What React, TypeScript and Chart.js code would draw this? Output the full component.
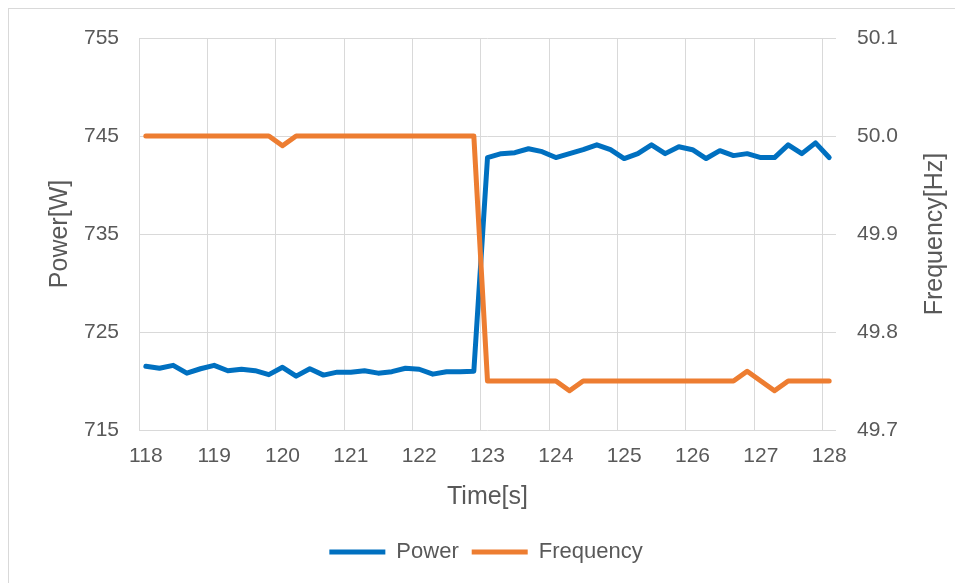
import React, { useEffect, useRef } from "react";
import { Chart, registerables } from "chart.js";

Chart.register(...registerables);

const time = [
  118.0, 118.2, 118.4, 118.6, 118.8, 119.0, 119.2, 119.4, 119.6, 119.8,
  120.0, 120.2, 120.4, 120.6, 120.8, 121.0, 121.2, 121.4, 121.6, 121.8,
  122.0, 122.2, 122.4, 122.6, 122.8, 123.0, 123.2, 123.4, 123.6, 123.8,
  124.0, 124.2, 124.4, 124.6, 124.8, 125.0, 125.2, 125.4, 125.6, 125.8,
  126.0, 126.2, 126.4, 126.6, 126.8, 127.0, 127.2, 127.4, 127.6, 127.8,
  128.0,
];

const power = [
  721.5, 721.3, 721.6, 720.8, 721.25, 721.6, 721.05, 721.2, 721.05, 720.65,
  721.4, 720.5, 721.25, 720.6, 720.9, 720.9, 721.05, 720.8, 720.95, 721.3,
  721.2, 720.7, 720.95, 720.95, 721.0, 742.8, 743.2, 743.3, 743.7, 743.4,
  742.8, 743.2, 743.6, 744.1, 743.6, 742.7, 743.2, 744.1, 743.2, 743.9,
  743.6, 742.7, 743.5, 743.0, 743.2, 742.8, 742.8, 744.1, 743.2, 744.3,
  742.8,
];

const frequency = [
  50.0, 50.0, 50.0, 50.0, 50.0, 50.0, 50.0, 50.0, 50.0, 50.0,
  49.99, 50.0, 50.0, 50.0, 50.0, 50.0, 50.0, 50.0, 50.0, 50.0,
  50.0, 50.0, 50.0, 50.0, 50.0, 49.75, 49.75, 49.75, 49.75, 49.75,
  49.75, 49.74, 49.75, 49.75, 49.75, 49.75, 49.75, 49.75, 49.75, 49.75,
  49.75, 49.75, 49.75, 49.75, 49.76, 49.75, 49.74, 49.75, 49.75, 49.75,
  49.75,
];

const powerTicks = [715, 725, 735, 745, 755];
const freqTicks = [49.7, 49.8, 49.9, 50.0, 50.1];

const seriesNames = ["Power", "Frequency"];
const xTitle = "Time[s]";
const yTitle = "Power[W]";
const y1Title = "Frequency[Hz]";

const FONT = "'Liberation Sans', Arial, sans-serif";
const TEXT = "#595959";
const GRID = "#d9d9d9";
const BLUE = "#0070C0";
const ORANGE = "#ED7D31";

const rightTitlePlugin = {
  id: "rightTitle",
  afterDraw(chart: any) {
    const { ctx, chartArea } = chart;
    const sc = chart.scales.y1;
    ctx.save();
    ctx.font = `25px ${FONT}`;
    ctx.fillStyle = TEXT;
    ctx.textAlign = "center";
    ctx.textBaseline = "middle";
    ctx.translate(sc.right - 28, (chartArea.top + chartArea.bottom) / 2);
    ctx.rotate(-Math.PI / 2);
    ctx.fillText(y1Title, 0, 0);
    ctx.restore();
  },
};

export default function App() {
  const canvasRef = useRef<HTMLCanvasElement | null>(null);

  useEffect(() => {
    const canvas = canvasRef.current;
    if (!canvas) return;
    const chart = new Chart(canvas, {
      type: "line",
      data: {
        labels: time.map((t) => String(t)),
        datasets: [
          {
            label: seriesNames[0],
            data: power,
            yAxisID: "y",
            borderColor: BLUE,
            backgroundColor: BLUE,
            borderWidth: 5,
            pointRadius: 0,
            pointHoverRadius: 0,
            tension: 0,
            borderJoinStyle: "round",
            borderCapStyle: "round",
            order: 1,
          },
          {
            label: seriesNames[1],
            data: frequency,
            yAxisID: "y1",
            borderColor: ORANGE,
            backgroundColor: ORANGE,
            borderWidth: 5,
            pointRadius: 0,
            pointHoverRadius: 0,
            tension: 0,
            borderJoinStyle: "round",
            borderCapStyle: "round",
            order: 0,
          },
        ],
      },
      options: {
        animation: false,
        responsive: true,
        maintainAspectRatio: false,
        events: [],
        layout: { padding: { top: 29, bottom: 10, left: 0, right: 0 } },
        plugins: {
          tooltip: { enabled: false },
          legend: {
            position: "bottom",
            labels: {
              usePointStyle: true,
              pointStyle: "line",
              pointStyleWidth: 56,
              color: TEXT,
              font: { family: FONT, size: 22 },
              padding: 13,
              sort: (a: any, b: any) => a.datasetIndex - b.datasetIndex,
            },
          },
        },
        scales: {
          x: {
            type: "category",
            offset: true,
            border: { display: false },
            grid: {
              offset: true,
              drawTicks: false,
              lineWidth: 1,
              color: (ctx: any) =>
                ctx.index !== undefined && ctx.index % 5 === 0 ? GRID : "rgba(0,0,0,0)",
            },
            ticks: {
              autoSkip: false,
              maxRotation: 0,
              minRotation: 0,
              padding: 14,
              color: TEXT,
              font: { family: FONT, size: 21 },
              callback: (_v: any, index: number) =>
                index % 5 === 0 ? String(time[index]) : "",
            },
            title: {
              display: true,
              text: xTitle,
              color: TEXT,
              font: { family: FONT, size: 25 },
              padding: { top: 0, bottom: 16 },
            },
            afterFit: (scale: any) => {
              scale.height = 98;
            },
          },
          y: {
            type: "linear",
            position: "left",
            min: powerTicks[0],
            max: powerTicks[powerTicks.length - 1],
            border: { display: false },
            grid: { color: GRID, drawTicks: false, lineWidth: 1 },
            ticks: {
              stepSize: powerTicks[1] - powerTicks[0],
              padding: 20,
              color: TEXT,
              font: { family: FONT, size: 21 },
            },
            title: {
              display: true,
              text: yTitle,
              color: TEXT,
              font: { family: FONT, size: 25 },
              padding: { top: 36, bottom: 0 },
            },
            afterFit: (scale: any) => {
              scale.width = 130;
              scale.paddingTop = 0;
              scale.paddingBottom = 0;
            },
          },
          y1: {
            type: "linear",
            position: "right",
            min: freqTicks[0],
            max: freqTicks[freqTicks.length - 1],
            border: { display: false },
            grid: { drawOnChartArea: false, drawTicks: false },
            ticks: {
              stepSize: 0.1,
              padding: 21,
              color: TEXT,
              font: { family: FONT, size: 21 },
              callback: (v: any) => Number(v).toFixed(1),
            },
            afterFit: (scale: any) => {
              scale.width = 127;
              scale.paddingTop = 0;
              scale.paddingBottom = 0;
            },
          },
        },
      },
      plugins: [rightTitlePlugin],
    } as any);
    return () => chart.destroy();
  }, []);

  return (
    <div
      style={{
        position: "relative",
        width: 962,
        height: 582,
        border: "1px solid #d9d9d9",
        boxSizing: "border-box",
        background: "#ffffff",
      }}
    >
      <div style={{ position: "absolute", left: 0, top: 0, width: 954, height: 574 }}>
        <canvas ref={canvasRef} />
      </div>
    </div>
  );
}
